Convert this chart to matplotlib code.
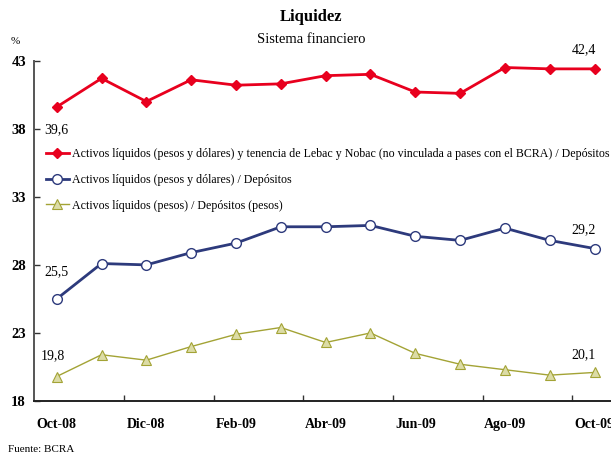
import matplotlib
matplotlib.use("Agg")
import matplotlib.pyplot as plt
from matplotlib.ticker import FixedLocator

plt.rcParams['font.family'] = ['Liberation Serif', 'DejaVu Serif']

months = ["Oct-08", "Nov-08", "Dic-08", "Ene-09", "Feb-09", "Mar-09", "Abr-09",
          "May-09", "Jun-09", "Jul-09", "Ago-09", "Sep-09", "Oct-09"]

liq_lebac = [39.6, 41.7, 40.0, 41.6, 41.2, 41.3, 41.9, 42.0, 40.7, 40.6, 42.5, 42.4, 42.4]
liq_total = [25.5, 28.1, 28.0, 28.9, 29.6, 30.8, 30.8, 30.9, 30.1, 29.8, 30.7, 29.8, 29.2]
liq_pesos = [19.8, 21.4, 21.0, 22.0, 22.9, 23.4, 22.3, 23.0, 21.5, 20.7, 20.3, 19.9, 20.1]

labels = [
    "Activos líquidos (pesos y dólares) y tenencia de Lebac y Nobac (no vinculada a pases con el BCRA) / Depósitos",
    "Activos líquidos (pesos y dólares) / Depósitos",
    "Activos líquidos (pesos) / Depósitos (pesos)",
]

y_ticks = [18, 23, 28, 33, 38, 43]

RED = "#E8001E"
NAVY = "#2D3A7C"
OLIVE = "#A3A335"
OLIVE_FILL = "#DCDCA6"

fig = plt.figure(figsize=(6.11, 4.54), dpi=100)
ax = fig.add_axes([0.0561, 0.1167, 0.9537, 0.7496])

x = list(range(len(months)))

ax.plot(x, liq_lebac, color=RED, lw=2.0, marker="D", ms=5, mfc=RED, mec=RED,
        label=labels[0], zorder=3)
ax.plot(x, liq_total, color=NAVY, lw=2.0, marker="o", ms=7, mfc="white", mec=NAVY,
        mew=1.0, label=labels[1], zorder=3)
ax.plot(x, liq_pesos, color=OLIVE, lw=1.0, marker="^", ms=6.5, mfc=OLIVE_FILL, mec=OLIVE,
        mew=0.8, label=labels[2], zorder=3)

ax.set_xlim(-0.5, len(months) - 0.5)
ax.set_ylim(18, 43)

ax.set_xticks(x[::2])
ax.set_xticklabels(months[::2], fontweight="bold", fontsize=10)
ax.xaxis.set_minor_locator(FixedLocator([i + 1.5 for i in range(0, 12, 2)]))
ax.tick_params(axis="x", which="major", length=0, pad=12)
ax.tick_params(axis="x", which="minor", direction="in", length=4, width=1, color="#333333")

ax.set_yticks(y_ticks)
ax.set_yticklabels([str(v) for v in y_ticks], fontweight="bold", fontsize=10.5)
ax.tick_params(axis="y", direction="in", length=4, width=1, color="#333333", pad=6)

for side in ("top", "right"):
    ax.spines[side].set_visible(False)
ax.spines["left"].set_color("#555555")
ax.spines["left"].set_linewidth(1.4)
ax.spines["bottom"].set_color("#222222")
ax.spines["bottom"].set_linewidth(1.4)

# value annotations at the first and last months
fs = 10
ax.annotate(f"{liq_lebac[0]:.1f}".replace(".", ","), (0, liq_lebac[0]), xytext=(0, -12),
            textcoords="offset points", ha="center", va="top", fontsize=fs)
ax.annotate(f"{liq_total[0]:.1f}".replace(".", ","), (0, liq_total[0]), xytext=(0, 15),
            textcoords="offset points", ha="center", va="bottom", fontsize=fs)
ax.annotate(f"{liq_pesos[0]:.1f}".replace(".", ","), (0, liq_pesos[0]), xytext=(-3, 10),
            textcoords="offset points", ha="center", va="bottom", fontsize=fs)
ax.annotate(f"{liq_lebac[-1]:.1f}".replace(".", ","), (12, liq_lebac[-1]), xytext=(-8, 9),
            textcoords="offset points", ha="center", va="bottom", fontsize=fs)
ax.annotate(f"{liq_total[-1]:.1f}".replace(".", ","), (12, liq_total[-1]), xytext=(-8, 9),
            textcoords="offset points", ha="center", va="bottom", fontsize=fs)
ax.annotate(f"{liq_pesos[-1]:.1f}".replace(".", ","), (12, liq_pesos[-1]), xytext=(-8, 8),
            textcoords="offset points", ha="center", va="bottom", fontsize=fs)

ax.legend(loc="upper left", bbox_to_anchor=(0.012, 0.757), frameon=False,
          fontsize=8.6, handlelength=1.9, handletextpad=0.3, labelspacing=1.15,
          borderaxespad=0)

fig.text(0.509, 0.962, "Liquidez", ha="center", va="center", fontsize=12, fontweight="bold")
fig.text(0.509, 0.912, "Sistema financiero", ha="center", va="center", fontsize=10.5)
fig.text(0.025, 0.908, "%", ha="center", va="center", fontsize=8)
fig.text(0.013, 0.0, "Fuente: BCRA", ha="left", va="bottom", fontsize=8)

fig.savefig("out.png", dpi=100)
